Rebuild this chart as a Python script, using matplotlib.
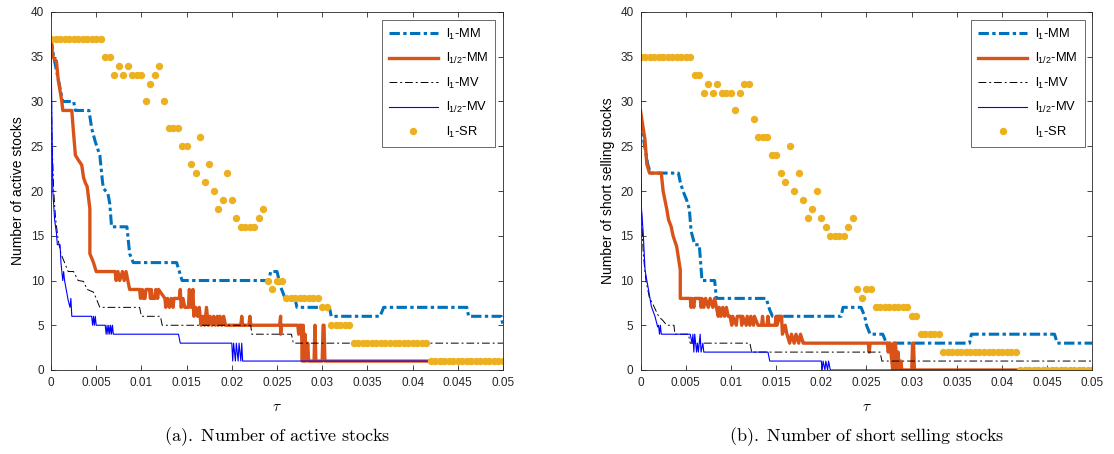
import numpy as np
import matplotlib
matplotlib.use("Agg")
import matplotlib.pyplot as plt

plt.rcParams['font.family'] = ['Liberation Sans', 'DejaVu Sans']
plt.rcParams['mathtext.fontset'] = 'cm'

# ---- data --------------------------------------------------------------------
# l1-SR is evaluated on a 0.0005 grid of tau (0 .. 0.05, 101 points)
tau_sr = np.linspace(0, 0.05, 101)

sr_active = ([37] * 12 + [35, 35, 33, 34, 33, 34, 33, 33, 33, 30, 32, 33, 34, 30,
             27, 27, 27, 25, 25, 23, 22, 26, 21, 23, 20, 18, 19, 22, 19, 17,
             16, 16, 16, 16, 17, 18, 10, 9, 10, 10] + [8] * 8 + [7, 7] + [5] * 5
             + [3] * 17 + [1] * 17)
sr_short = ([35] * 12 + [33, 33, 31, 32, 31, 32, 31, 31, 31, 29, 31, 32, 32, 28,
            26, 26, 26, 24, 24, 22, 21, 25, 20, 22, 19, 17, 18, 20, 17, 16,
            15, 15, 15, 15, 16, 17, 9, 8, 9, 9] + [7] * 8 + [6, 6] + [4] * 5
            + [2] * 17 + [0] * 17)

# (a) number of active stocks: breakpoints (tau, value) per model
a_l1mm_t = [0, 0.0003, 0.0009, 0.0013, 0.0025, 0.0027, 0.0042, 0.0045, 0.0049, 0.0054,
            0.0057, 0.0058, 0.0063, 0.0065, 0.0067, 0.0084, 0.0087, 0.0091, 0.0139,
            0.0145, 0.0241, 0.0243, 0.0250, 0.0254, 0.0259, 0.0270, 0.0272, 0.0308,
            0.0310, 0.0364, 0.0368, 0.0460, 0.0462, 0.0498, 0.0500]
a_l1mm_v = [37, 35, 32, 30, 30, 29, 29, 27, 25.5, 24, 21, 20.3, 19.7, 18.6, 16, 16, 13,
            12, 12, 10, 10, 11, 11, 9.3, 8, 8, 7, 7, 6, 6, 7, 7, 6, 6, 5]

a_l12mm_t = [0, 0.0002, 0.0006, 0.0008, 0.0012, 0.0013, 0.0023, 0.0025, 0.0027, 0.0030,
             0.0034, 0.0036, 0.0038, 0.0040, 0.0043, 0.0043, 0.0047, 0.0050, 0.0071,
             0.0072, 0.0074, 0.0076, 0.0079, 0.0081, 0.0083, 0.0085, 0.0087, 0.0098,
             0.0099, 0.0101, 0.0102, 0.0104, 0.0105, 0.0109, 0.0110, 0.0111, 0.0112,
             0.0115, 0.0116, 0.0118, 0.0119, 0.0126, 0.0127, 0.0129, 0.0131, 0.0133,
             0.0135, 0.0136, 0.0142, 0.0143, 0.0144, 0.0146, 0.0148, 0.0152,
             0.0153, 0.0155, 0.0157, 0.0158, 0.0160, 0.0162, 0.0164, 0.0166, 0.0168,
             0.0170, 0.0172, 0.0174, 0.0176, 0.0178, 0.0180, 0.0182, 0.0184, 0.0185,
             0.0187, 0.0189, 0.0191, 0.0193, 0.0210, 0.0211, 0.0212, 0.0219, 0.0220,
             0.0221, 0.0253, 0.0254, 0.0254, 0.0255, 0.0273, 0.0274, 0.0275, 0.0277,
             0.0278, 0.0279, 0.0280, 0.0281, 0.0282, 0.0284, 0.0285, 0.0291, 0.0292,
             0.0293, 0.0300, 0.0301, 0.0302, 0.0303, 0.0500]
a_l12mm_v = [37, 35, 34.5, 32.4, 30, 29, 29, 26.4, 24, 23.5, 22.9, 21.5, 20.9, 20.5, 18,
             13, 12, 11, 11, 10, 11, 10, 11, 10, 11, 10, 9, 9, 8, 9, 8, 8, 9, 9, 8, 9,
             8, 8, 9, 8, 9, 8, 7, 8, 7, 8, 7, 8, 8, 9, 7, 8, 7, 7, 9, 7, 9, 6, 7, 6, 7,
             5, 6, 5, 7, 5, 6, 5, 6, 5, 6, 5, 6, 5, 6, 5, 5, 6, 5, 5, 6, 5, 5, 6, 4, 5,
             5, 4, 5, 5, 1, 5, 1, 4, 1, 3, 1, 1, 5, 1, 1, 5, 5, 1, 1]

a_l1mv_t = [0, 0.0001, 0.0003, 0.0005, 0.0008, 0.0011, 0.0015, 0.0019, 0.0025, 0.0030,
            0.0036, 0.0040, 0.0047, 0.0050, 0.0054, 0.0098, 0.0100, 0.0121, 0.0123,
            0.0221, 0.0222, 0.0266, 0.0268, 0.0500]
a_l1mv_v = [37, 26, 20, 17, 14.5, 13, 12, 11, 11, 10, 9.9, 9, 8.7, 8, 7, 7, 6, 6, 5, 5,
            4, 4, 3, 3]

a_l12mv_t = [0, 0.0001, 0.0002, 0.0004, 0.0006, 0.0007, 0.0010, 0.0011, 0.0012, 0.0013,
             0.0014, 0.0015, 0.0017, 0.0019, 0.0021, 0.0022, 0.0023, 0.0045, 0.0046,
             0.0047, 0.0048, 0.0049, 0.0050, 0.0060, 0.0061, 0.0062, 0.0063, 0.0064,
             0.0065, 0.0066, 0.0067, 0.0068, 0.0069, 0.0141, 0.0143, 0.0200, 0.0201,
             0.0202, 0.0204, 0.0205, 0.0207, 0.0208, 0.0210, 0.0211, 0.0212, 0.0500]
a_l12mv_v = [37, 28, 20, 16.8, 15.3, 14, 14, 12, 11, 10, 11, 10, 8.9, 7.8, 7, 8, 6, 6, 5,
             6, 5, 6, 5, 5, 4, 5, 4, 5, 4, 5, 4, 5, 4, 4, 3, 3, 1, 3, 1, 3, 1, 3, 1, 3,
             1, 1]

# (b) number of short selling stocks
b_l1mm_t = [0, 0.0003, 0.0008, 0.0011, 0.0042, 0.0044, 0.0047, 0.0051, 0.0054, 0.0056,
            0.0060, 0.0065, 0.0066, 0.0068, 0.0082, 0.0084, 0.0139, 0.0143, 0.0146,
            0.0222, 0.0224, 0.0244, 0.0248, 0.0250, 0.0254, 0.0268, 0.0272, 0.0364,
            0.0366, 0.0458, 0.0461, 0.0500]
b_l1mm_v = [28, 26, 23, 22, 22, 21, 20, 19, 18, 15.5, 14, 14, 12.7, 10, 10, 8, 8, 6.7, 6,
            6, 7, 7, 6, 5, 4, 4, 3, 3, 4, 4, 3, 3]

b_l12mm_t = [0, 0.0003, 0.0005, 0.0007, 0.0010, 0.0023, 0.0024, 0.0025, 0.0027, 0.0029,
             0.0031, 0.0034, 0.0036, 0.0040, 0.0044, 0.0044, 0.0055, 0.0056, 0.0057,
             0.0059, 0.0060, 0.0066, 0.0067, 0.0068, 0.0070, 0.0072, 0.0075, 0.0077,
             0.0080, 0.0082, 0.0084, 0.0086, 0.0087, 0.0089, 0.0091, 0.0093, 0.0095,
             0.0097, 0.0099, 0.0101, 0.0102, 0.0106, 0.0107, 0.0111, 0.0112, 0.0113,
             0.0117, 0.0118, 0.0121, 0.0122, 0.0125, 0.0126, 0.0130, 0.0134, 0.0135,
             0.0136, 0.0140, 0.0141, 0.0142, 0.0149, 0.0150, 0.0151, 0.0154, 0.0156,
             0.0157, 0.0160, 0.0162, 0.0165, 0.0167, 0.0170, 0.0172, 0.0175, 0.0177,
             0.0180, 0.0182, 0.0252, 0.0253, 0.0254, 0.0273, 0.0274, 0.0276, 0.0279,
             0.0280, 0.0281, 0.0282, 0.0284, 0.0285, 0.0286, 0.0288, 0.0289, 0.0300,
             0.0301, 0.0302, 0.0303, 0.0500]
b_l12mm_v = [29, 27, 25.7, 23, 22, 22, 21, 20, 19, 18, 16.8, 16, 15, 13.8, 11.2, 8, 8, 7,
             8, 7, 8, 8, 7, 8, 7, 8, 7, 8, 7, 8, 7, 6, 7, 6, 7, 6, 7, 6, 6, 5, 6, 5, 6,
             6, 5, 6, 5, 6, 5, 6, 5, 6, 5, 5, 6, 5, 5, 6, 5, 5, 6, 5, 6, 6, 4, 5, 4, 3,
             4, 3, 4, 3, 4, 3, 3, 3, 2, 3, 3, 2, 3, 0, 3, 0, 3, 0, 2, 0, 1, 0, 0, 3, 3,
             0, 0]

b_l1mv_t = [0, 0.0001, 0.0003, 0.0006, 0.0010, 0.0013, 0.0020, 0.0025, 0.0029, 0.0037,
            0.0038, 0.0053, 0.0055, 0.0121, 0.0123, 0.0265, 0.0267, 0.0500]
b_l1mv_v = [28, 18, 13, 10, 8, 7.5, 6, 5.5, 5, 5, 4, 4, 3, 3, 2, 2, 1, 1]

b_l12mv_t = [0, 0.0001, 0.0003, 0.0005, 0.0007, 0.0009, 0.0012, 0.0016, 0.0018, 0.0019,
             0.0020, 0.0021, 0.0022, 0.0023, 0.0055, 0.0057, 0.0058, 0.0059, 0.0060,
             0.0062, 0.0063, 0.0064, 0.0066, 0.0067, 0.0069, 0.0070, 0.0141, 0.0143,
             0.0200, 0.0201, 0.0202, 0.0204, 0.0205, 0.0207, 0.0208, 0.0210, 0.0500]
b_l12mv_v = [27, 18.2, 15.3, 11.2, 10, 8.9, 7.1, 6, 5.2, 4.8, 5, 4, 5, 4, 4, 3, 4, 2, 4,
             2, 3, 2, 4, 2, 3, 2, 2, 1, 1, 0, 1, 0, 1, 0, 1, 0, 0]

xticks = [0, 0.005, 0.01, 0.015, 0.02, 0.025, 0.03, 0.035, 0.04, 0.045, 0.05]
xtick_labels = ['0', '0.005', '0.01', '0.015', '0.02', '0.025', '0.03', '0.035',
                '0.04', '0.045', '0.05']
yticks = [0, 5, 10, 15, 20, 25, 30, 35, 40]

labels = ['l$\\mathregular{_1}$-MM', 'l$\\mathregular{_{1/2}}$-MM',
          'l$\\mathregular{_1}$-MV', 'l$\\mathregular{_{1/2}}$-MV',
          'l$\\mathregular{_1}$-SR']

panels = [
    dict(lines=[(a_l1mm_t, a_l1mm_v), (a_l12mm_t, a_l12mm_v),
                (a_l1mv_t, a_l1mv_v), (a_l12mv_t, a_l12mv_v)],
         sr=sr_active, ylabel='Number of active stocks',
         caption=r'$\mathrm{(a).\ Number\ of\ active\ stocks}$'),
    dict(lines=[(b_l1mm_t, b_l1mm_v), (b_l12mm_t, b_l12mm_v),
                (b_l1mv_t, b_l1mv_v), (b_l12mv_t, b_l12mv_v)],
         sr=sr_short, ylabel='Number of short selling stocks',
         caption=r'$\mathrm{(b).\ Number\ of\ short\ selling\ stocks}$'),
]

# MATLAB-ish default colours / styles
styles = [
    dict(color='#0072BD', lw=2.2, linestyle=(0, (3.4, 1.1, 1.1, 1.1))),
    dict(color='#D95319', lw=2.4, linestyle='-'),
    dict(color='black', lw=0.7, linestyle=(0, (8, 3, 2, 3))),
    dict(color='#0000FF', lw=0.8, linestyle='-'),
]

fig = plt.figure(figsize=(11.14, 4.54), dpi=100)
lefts = [51 / 1114, 640.5 / 1114]
for left, p in zip(lefts, panels):
    ax = fig.add_axes([left, 84 / 454, 452 / 1114, 358 / 454])
    for (t, v), st, lab in zip(p['lines'], styles, labels):
        ax.plot(t, v, label=lab, **st)
    ax.plot(tau_sr, p['sr'], 'o', color='#EDB120', ms=4.3, mec='#EDB120',
            label=labels[4])

    ax.set_xlim(0, 0.05)
    ax.set_ylim(0, 40)
    ax.set_xticks(xticks)
    ax.set_xticklabels(xtick_labels)
    ax.set_yticks(yticks)
    ax.tick_params(direction='in', top=True, right=True, length=3.5, width=0.6,
                   labelsize=8.5, colors='#262626', pad=5)
    for s in ax.spines.values():
        s.set_color('#262626')
        s.set_linewidth(0.6)
    ax.set_ylabel(p['ylabel'], fontsize=10, labelpad=4)
    ax.set_xlabel(r'$\tau$', fontsize=11, labelpad=8)

    leg = ax.legend(loc='upper right', fontsize=9.3, frameon=True, fancybox=False,
                    edgecolor='#262626', handlelength=3.8, borderaxespad=0.6,
                    labelspacing=0.72, handletextpad=0.6, borderpad=0.55)
    leg.get_frame().set_linewidth(0.6)

    fig.text(left + 226 / 1114, 17 / 454, p['caption'], ha='center', va='center',
             fontsize=13)

fig.savefig('out.png', dpi=100)
